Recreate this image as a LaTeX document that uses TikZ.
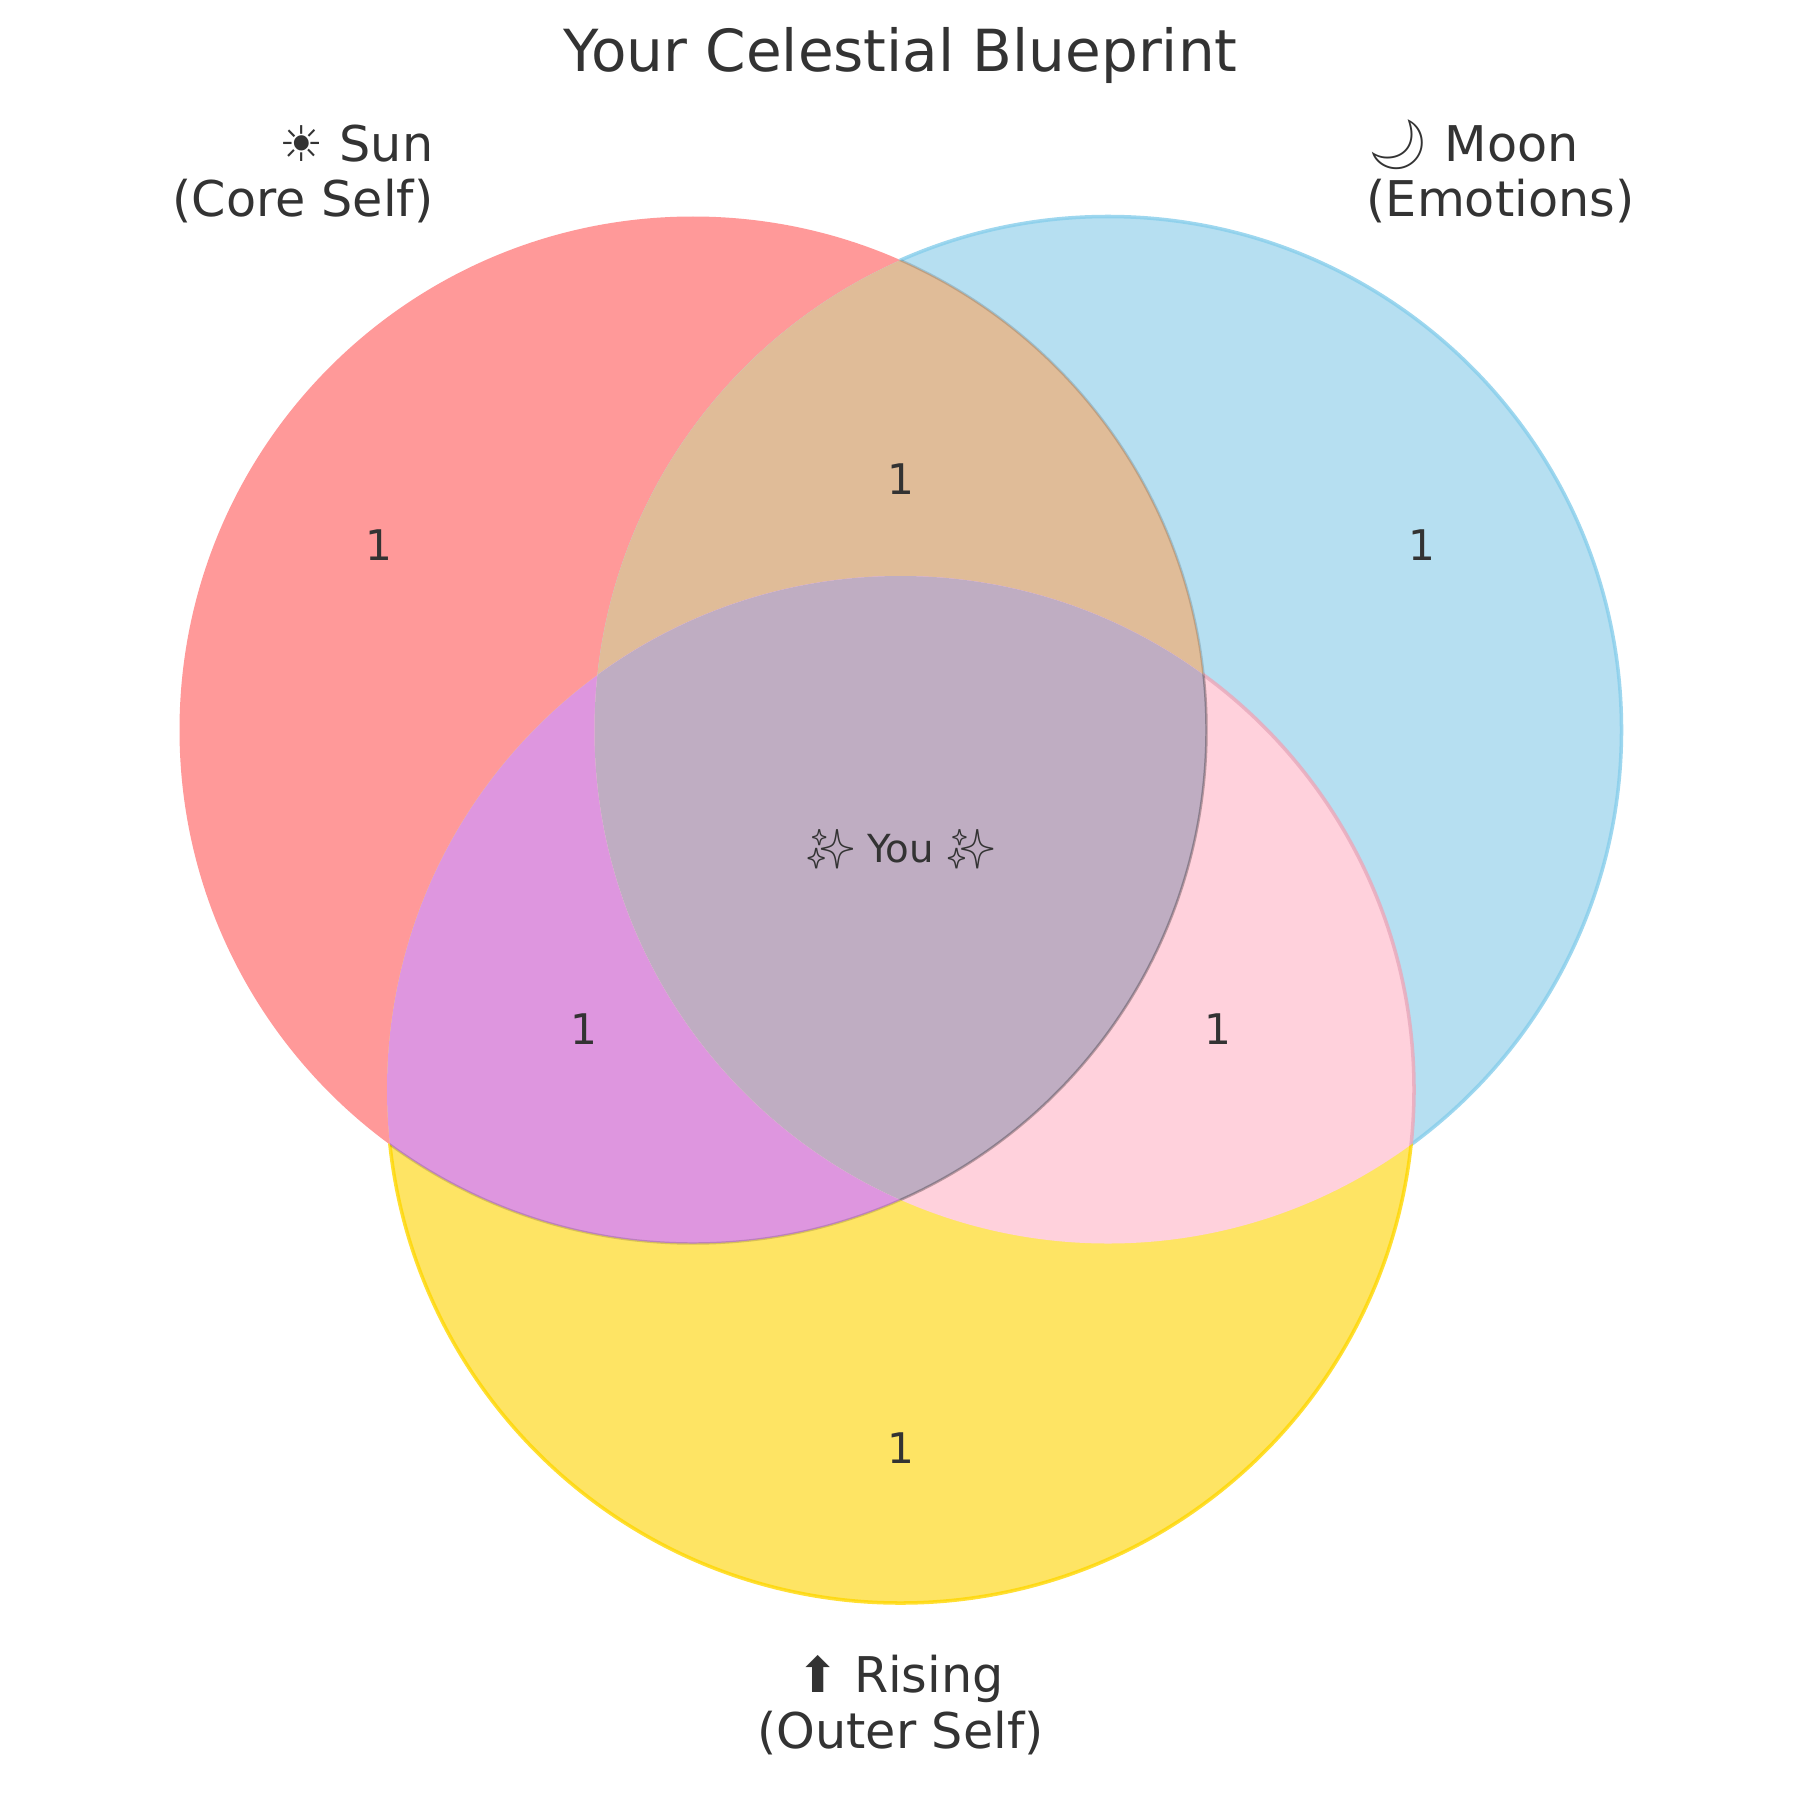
\documentclass[tikz,border=0pt]{standalone}
\usepackage{fontspec}
\setmainfont{DejaVu Sans}
\newfontfamily\emojifont{Noto Emoji}

\definecolor{textgray}{HTML}{333333}
\definecolor{sunfill}{HTML}{FF9999}
\definecolor{moonfill}{HTML}{B6DFF1}
\definecolor{risefill}{HTML}{FEE464}
\definecolor{sunmoon}{HTML}{E0BC98}
\definecolor{sunrise}{HTML}{DE96DF}
\definecolor{moonrise}{HTML}{FFD1DC}
\definecolor{allthree}{HTML}{BFADC2}
\definecolor{moonedge}{HTML}{87CEEB}
\definecolor{riseedge}{HTML}{FFD700}
\definecolor{pinkedge}{HTML}{E8A8BC}

\newcommand{\venrad}{513.5}

\begin{document}
\begin{tikzpicture}[x=0.01cm, y=-0.01cm,
    every node/.style={text=textgray, inner sep=0pt},
    count/.style={font=\fontsize{12}{14}\selectfont},
    setlabel/.style={font=\fontsize{14}{15.65}\selectfont},
    rim/.style={line width=1pt, opacity=0.8},
    seam/.style={line width=0.7pt, black, opacity=0.15}]

    \useasboundingbox[fill=white] (0,0) rectangle (1800,1800);

    % Circle centres
    \coordinate (sun) at (693,730);
    \coordinate (moon) at (1108,730);
    \coordinate (rise) at (900.5,1089.5);

    % Single sets
    \fill[sunfill] (sun) circle[radius=\venrad];
    \fill[moonfill] (moon) circle[radius=\venrad];
    \fill[risefill] (rise) circle[radius=\venrad];

    % Pairwise overlaps
    \begin{scope}
        \clip (sun) circle[radius=\venrad];
        \fill[sunmoon] (moon) circle[radius=\venrad];
        \fill[sunrise] (rise) circle[radius=\venrad];
    \end{scope}
    \begin{scope}
        \clip (moon) circle[radius=\venrad];
        \fill[moonrise] (rise) circle[radius=\venrad];
    \end{scope}

    % All three
    \begin{scope}
        \clip (sun) circle[radius=\venrad];
        \clip (moon) circle[radius=\venrad];
        \fill[allthree] (rise) circle[radius=\venrad];
    \end{scope}

    % Outer rims
    \begin{scope}[even odd rule]
        \clip (0,0) rectangle (1800,1800) (sun) circle[radius=\venrad];
        \begin{scope}[even odd rule]
            \clip (0,0) rectangle (1800,1800) (rise) circle[radius=\venrad];
            \draw[rim, moonedge] (moon) circle[radius=\venrad];
        \end{scope}
        \begin{scope}[even odd rule]
            \clip (0,0) rectangle (1800,1800) (moon) circle[radius=\venrad];
            \draw[rim, riseedge] (rise) circle[radius=\venrad];
        \end{scope}
        \begin{scope}
            \clip (moon) circle[radius=\venrad];
            \draw[rim, pinkedge] (rise) circle[radius=\venrad];
        \end{scope}
    \end{scope}

    % Sun seams inside the other sets
    \begin{scope}
        \clip (moon) circle[radius=\venrad];
        \draw[seam] (sun) circle[radius=\venrad];
    \end{scope}
    \begin{scope}
        \clip (rise) circle[radius=\venrad];
        \draw[seam] (sun) circle[radius=\venrad];
    \end{scope}

    % Region counts
    \node[count] (sunonly) at (379,545.5) {1};
    \node[count] (moononly) at (1422,545.5) {1};
    \node[count] (riseonly) at (900.5,1448) {1};
    \node[count] (sunmoonct) at (900.5,479.5) {1};
    \node[count] (sunrisect) at (583.5,1029) {1};
    \node[count] (moonrisect) at (1217.5,1029) {1};
    \node[font=\fontsize{11}{13}\selectfont, anchor=base] (you) at (900.5,862)
        {{\emojifont ✨} You {\emojifont ✨}};

    % Set labels and title
    \node[setlabel, anchor=base east, align=right] (sunlabel) at (434,216.7)
        {☀ Sun\\(Core Self)};
    \node[setlabel, anchor=base west, align=left] (moonlabel) at (1366,216.7)
        {{\emojifont 🌙} Moon\\(Emotions)};
    \node[setlabel, anchor=base, align=center] (riselabel) at (900.5,1748)
        {⬆ Rising\\(Outer Self)};
    \node[font=\fontsize{16.5}{20}\selectfont, anchor=base] (title) at (900.5,72)
        {Your Celestial Blueprint};
\end{tikzpicture}
\end{document}
